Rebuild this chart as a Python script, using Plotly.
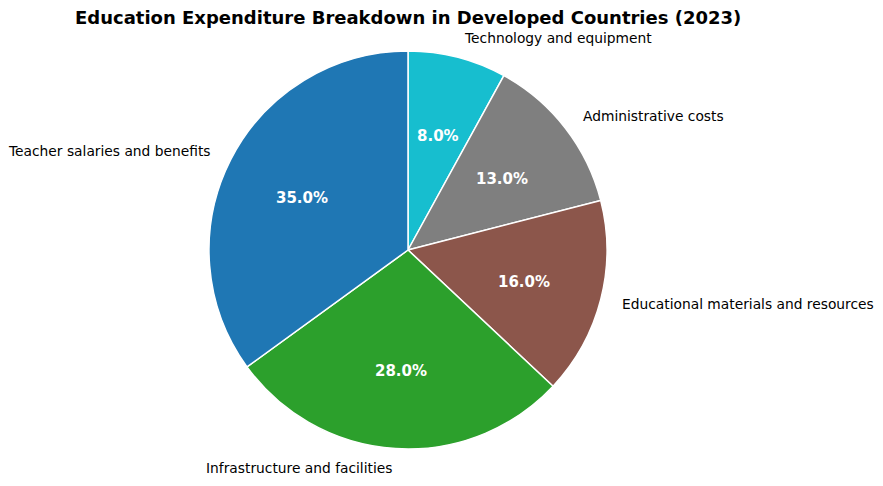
import math
import plotly.graph_objects as go

categories = ["Teacher salaries and benefits", "Infrastructure and facilities",
              "Educational materials and resources", "Administrative costs",
              "Technology and equipment"]
values = [35, 28, 16, 13, 8]
colors = ["#1f77b4", "#2ca02c", "#8c564b", "#7f7f7f", "#17becf"]

W, H = 883, 486
cx, cy, R = 408, 250, 199

# matplotlib draws counterclockwise from 12 o'clock; same as clockwise with reversed order
fig = go.Figure(go.Pie(
    labels=categories[::-1], values=values[::-1], sort=False, direction="clockwise",
    rotation=0, marker=dict(colors=colors[::-1], line=dict(color="white", width=1.5)),
    textinfo="none", hoverinfo="label+percent", showlegend=False,
    domain=dict(x=[(cx - R) / W, (cx + R) / W], y=[1 - (cy + R) / H, 1 - (cy - R) / H]),
))

annotations = []
total = sum(values)
start = 90.0
for cat, v in zip(categories, values):
    span = 360.0 * v / total
    mid = math.radians(start + span / 2)
    start += span
    # percentage label
    px = cx + 0.6 * R * math.cos(mid)
    py = cy - 0.6 * R * math.sin(mid)
    annotations.append(dict(x=px / W, y=1 - py / H, xref="paper", yref="paper",
                            text=f"<b>{100 * v / total:.1f}%</b>", showarrow=False,
                            font=dict(family="DejaVu Sans", size=15, color="white"),
                            xanchor="center", yanchor="middle", yshift=-2))
    # category label
    lx = cx + 1.1 * R * math.cos(mid)
    ly = cy - 1.1 * R * math.sin(mid)
    annotations.append(dict(x=lx / W, y=1 - ly / H, xref="paper", yref="paper",
                            text=cat, showarrow=False,
                            font=dict(family="DejaVu Sans", size=13.8, color="black"),
                            xanchor="left" if math.cos(mid) > 0 else "right",
                            yanchor="middle"))

annotations.append(dict(x=cx / W, y=1 - 18 / H, xref="paper", yref="paper",
                        text="<b>Education Expenditure Breakdown in Developed Countries (2023)</b>",
                        showarrow=False, font=dict(family="DejaVu Sans", size=18, color="black"),
                        xanchor="center", yanchor="middle"))

fig.update_layout(width=W, height=H, margin=dict(l=0, r=0, t=0, b=0),
                  paper_bgcolor="white", plot_bgcolor="white",
                  annotations=annotations)

fig.write_html("out.html")
